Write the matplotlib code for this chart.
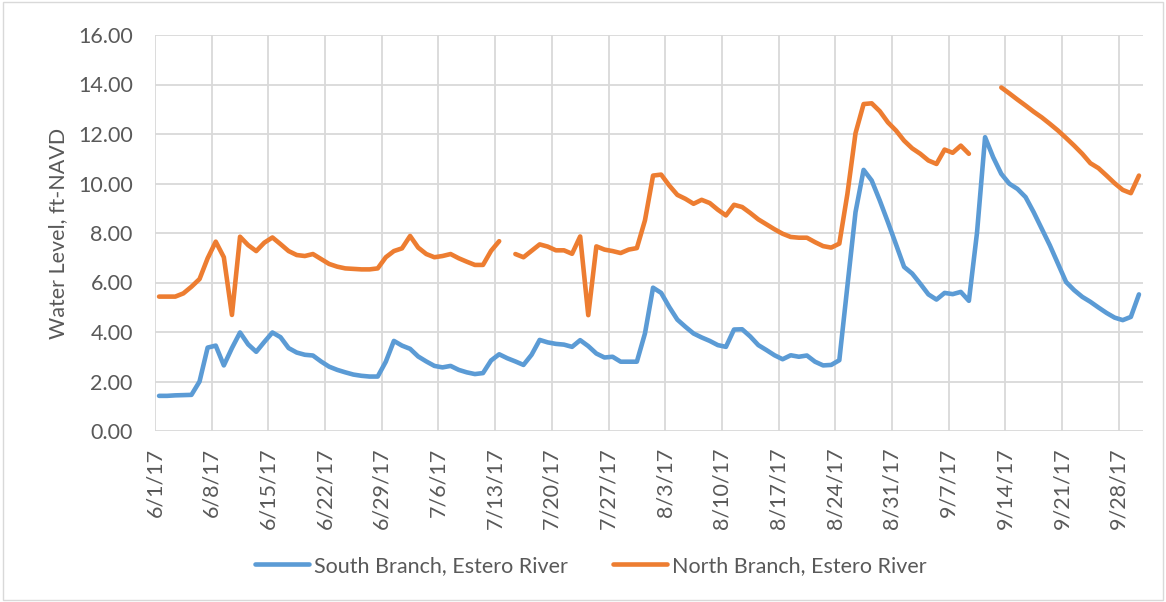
import matplotlib.pyplot as plt
import matplotlib.patches as mpatches
import numpy as np
import pandas as pd

plt.rcParams['font.family'] = ['Lato', 'DejaVu Sans']

# daily water levels, 6/1/17 - 9/30/17 (ft-NAVD)
dates = pd.date_range('2017-06-01', '2017-09-30', freq='D')

south = [1.42, 1.42, 1.44, 1.45, 1.46, 2.00, 3.37, 3.45, 2.65, 3.35,
         3.98, 3.50, 3.20, 3.60, 3.98, 3.79, 3.35, 3.17, 3.08, 3.05,
         2.81, 2.60, 2.47, 2.37, 2.28, 2.23, 2.20, 2.20, 2.80, 3.64,
         3.45, 3.32, 3.01, 2.81, 2.63, 2.57, 2.63, 2.47, 2.37, 2.30,
         2.34, 2.85, 3.10, 2.94, 2.81, 2.67, 3.08, 3.68, 3.58, 3.52,
         3.49, 3.40, 3.67, 3.43, 3.13, 2.97, 3.00, 2.80, 2.80, 2.80,
         3.94, 5.79, 5.58, 5.01, 4.50, 4.21, 3.94, 3.78, 3.64, 3.47,
         3.40, 4.10, 4.11, 3.82, 3.47, 3.27, 3.06, 2.90, 3.06, 3.00,
         3.05, 2.80, 2.65, 2.67, 2.86, 5.86, 8.84, 10.55, 10.12, 9.31,
         8.44, 7.54, 6.63, 6.36, 5.95, 5.52, 5.31, 5.58, 5.53, 5.62,
         5.26, 8.00, 11.87, 11.06, 10.39, 9.99, 9.78, 9.45, 8.84, 8.17,
         7.50, 6.76, 6.02, 5.69, 5.42, 5.22, 4.99, 4.77, 4.58, 4.48,
         4.61, 5.52]

north = [5.43, 5.43, 5.43, 5.56, 5.83, 6.14, 6.98, 7.65, 7.02, 4.69,
         7.85, 7.51, 7.27, 7.61, 7.82, 7.55, 7.27, 7.11, 7.07, 7.15,
         6.95, 6.75, 6.64, 6.57, 6.55, 6.53, 6.53, 6.57, 7.02, 7.27,
         7.38, 7.88, 7.41, 7.15, 7.02, 7.07, 7.15, 6.98, 6.84, 6.71,
         6.71, 7.28, 7.67, np.nan, 7.15, 7.02, 7.28, 7.54, 7.45, 7.30,
         7.30, 7.16, 7.86, 4.68, 7.46, 7.33, 7.27, 7.19, 7.33, 7.39,
         8.51, 10.32, 10.36, 9.92, 9.54, 9.38, 9.18, 9.34, 9.21, 8.94,
         8.71, 9.14, 9.05, 8.81, 8.55, 8.35, 8.15, 7.97, 7.84, 7.81,
         7.81, 7.63, 7.47, 7.41, 7.57, 9.58, 12.03, 13.21, 13.24, 12.92,
         12.47, 12.14, 11.73, 11.42, 11.20, 10.93, 10.79, 11.37, 11.24, 11.53,
         11.20, np.nan, np.nan, np.nan, 13.88, 13.64, 13.39, 13.15, 12.90, 12.67,
         12.41, 12.14, 11.84, 11.53, 11.20, 10.82, 10.62, 10.32, 10.01, 9.74,
         9.61, 10.32]

labels = ['South Branch, Estero River', 'North Branch, Estero River']
colors = ['#5B9BD5', '#ED7D31']
fs = 15.5

fig = plt.figure(figsize=(11.66, 6.02), dpi=100)
ax = fig.add_axes([155/1166, 1-431/602, 988/1166, 396/602])

# each day sits in the middle of its slot (Excel date axis)
x = np.arange(len(dates)) + 0.5
for vals, lab, c in zip([south, north], labels, colors):
    ax.plot(x, vals, color=c, lw=3.3, label=lab,
            solid_capstyle='round', solid_joinstyle='round')

ax.set_xlim(0, len(dates))
ax.set_ylim(0, 16)
ax.set_yticks(np.arange(0, 16.1, 2))
ax.set_yticklabels([f'{v:.2f}' for v in np.arange(0, 16.1, 2)])
tick_pos = np.arange(0, len(dates), 7)
ax.set_xticks(tick_pos)
ax.set_xticklabels([f'{d.month}/{d.day}/17' for d in dates[tick_pos]], rotation=90)

ax.grid(True, color='#d9d9d9', lw=1.3)
ax.set_axisbelow(True)
for s in ax.spines.values():
    s.set_visible(False)
ax.tick_params(axis='both', length=0, labelsize=fs, labelcolor='#595959')
ax.tick_params(axis='y', pad=16)
ax.tick_params(axis='x', pad=12)

fig.text(58/1166, 1-233/602, 'Water Level, ft-NAVD', rotation=90,
         ha='center', va='center', fontsize=fs, color='#595959')

leg = fig.legend(loc='center', bbox_to_anchor=(591/1166, 1-566/602), ncol=2,
                 frameon=False, fontsize=fs, handlelength=2.5,
                 handletextpad=0.25, columnspacing=2.1)
for t in leg.get_texts():
    t.set_color('#595959')
for h in leg.get_lines():
    h.set_solid_capstyle('round')

fig.patches.append(mpatches.Rectangle((0.003, 0.004), 0.994, 0.992,
                                      transform=fig.transFigure, fill=False,
                                      edgecolor='#d9d9d9', lw=1))

fig.savefig('out.png', dpi=100)
